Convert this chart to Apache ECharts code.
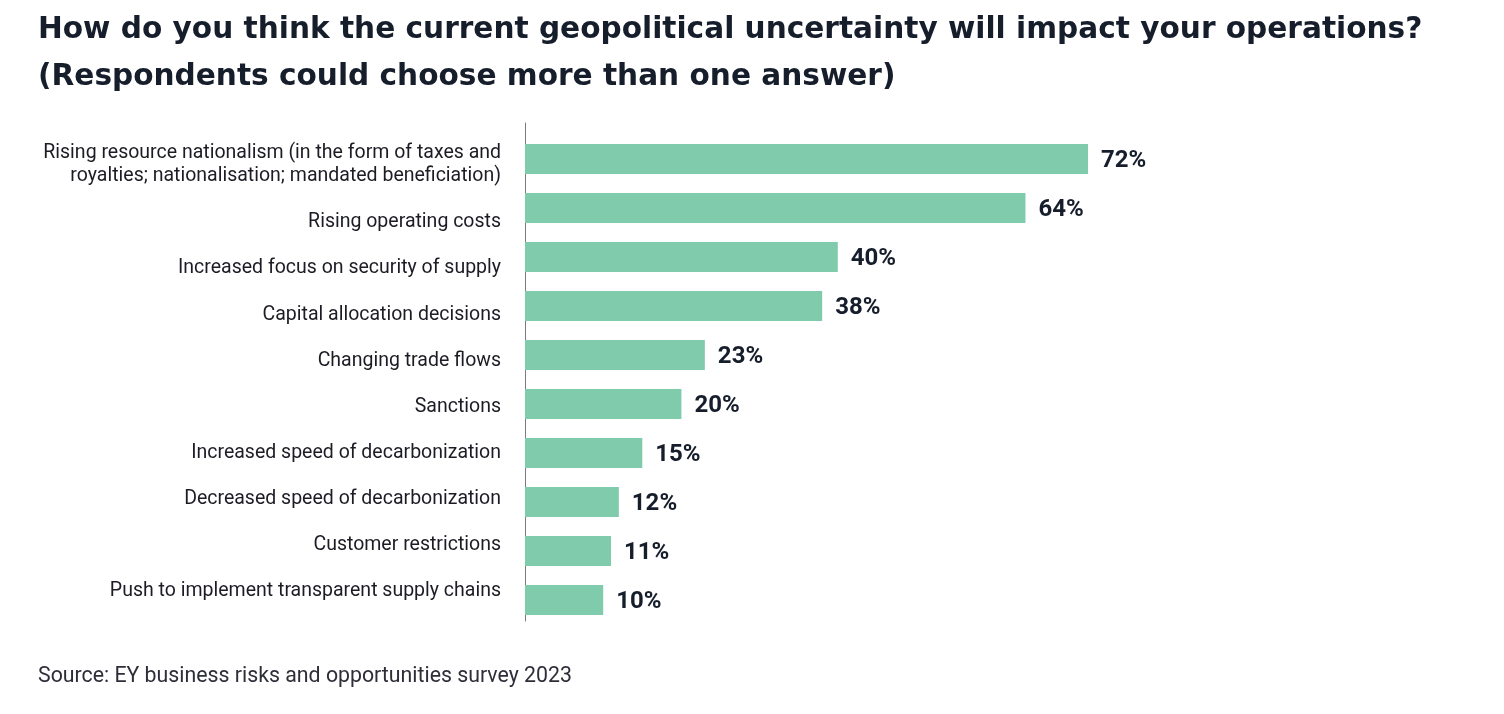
<!DOCTYPE html>
<html>
<head>
<meta charset="utf-8">
<script src="https://cdn.jsdelivr.net/npm/echarts@6/dist/echarts.min.js"></script>
<style>html,body{margin:0;padding:0;background:#fff;}#c{width:1504px;height:714px;}</style>
</head>
<body>
<div id="c"></div>
<script>
const categories = [
  'Rising resource nationalism (in the form of taxes and\nroyalties; nationalisation; mandated beneficiation)',
  'Rising operating costs',
  'Increased focus on security of supply',
  'Capital allocation decisions',
  'Changing trade flows',
  'Sanctions',
  'Increased speed of decarbonization',
  'Decreased speed of decarbonization',
  'Customer restrictions',
  'Push to implement transparent supply chains'
];
const values = [72, 64, 40, 38, 23, 20, 15, 12, 11, 10];
const titleText = 'How do you think the current geopolitical uncertainty will impact your operations?\n(Respondents could choose more than one answer)';
const sourceText = 'Source: EY business risks and opportunities survey 2023';

const FONT = 'Roboto';
const TITLE_FONT = 'DejaVu Sans';
const chart = echarts.init(document.getElementById('c'), null, {renderer: 'canvas'});
chart.setOption({
  backgroundColor: '#ffffff',
  animation: false,
  title: [
    {text: titleText, left: 33, top: 2,
     textStyle: {fontFamily: TITLE_FONT, fontSize: 29.6, fontWeight: 'bold', color: '#161d2b', lineHeight: 47}},
    {text: sourceText, left: 33, top: 661,
     textStyle: {fontFamily: FONT, fontSize: 21.3, fontWeight: 'normal', color: '#2e2e38'}}
  ],
  grid: [
    {left: 525, top: 134.5, width: 782, height: 490},
    {left: 525, top: 153.35, width: 782, height: 461},
    {left: 525, top: 123, width: 782, height: 498}
  ],
  xAxis: [
    {type: 'value', gridIndex: 0, min: 0, max: 100, show: false},
    {type: 'value', gridIndex: 1, min: 0, max: 100, show: false},
    {type: 'value', gridIndex: 2, min: 0, max: 100, show: false}
  ],
  yAxis: [
    {type: 'category', gridIndex: 0, data: categories, inverse: true,
     axisLine: {show: false}, axisTick: {show: false}, axisLabel: {show: false}, splitLine: {show: false}},
    {type: 'category', gridIndex: 1, data: categories, inverse: true,
     axisLine: {show: false}, axisTick: {show: false}, splitLine: {show: false},
     axisLabel: {
       fontFamily: FONT, fontSize: 19.5, color: '#1c1c24', margin: 24, lineHeight: 23,
       formatter: function (v) {
         return v.indexOf('\n') >= 0 ? v + '\n' : v;
       }
     }},
    {type: 'category', gridIndex: 2, data: categories, inverse: true,
     axisLine: {show: true, lineStyle: {color: '#7a7a80', width: 1}},
     axisTick: {show: false}, axisLabel: {show: false}, splitLine: {show: false}}
  ],
  series: [{
    type: 'bar',
    xAxisIndex: 0, yAxisIndex: 0,
    data: values,
    barWidth: 30,
    itemStyle: {color: '#80cbac'},
    label: {
      show: true, position: 'right', distance: 13, offset: [0, 2],
      formatter: '{c}%',
      fontFamily: FONT, fontSize: 24, fontWeight: 'bold', color: '#161d2b'
    }
  }]
});
</script>
</body>
</html>
